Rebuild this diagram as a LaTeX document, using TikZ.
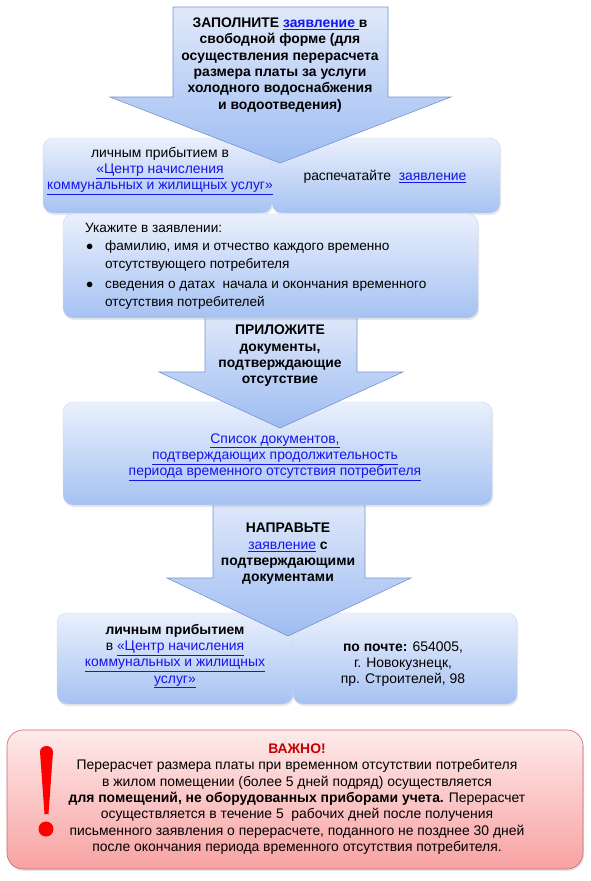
\documentclass[tikz,border=0pt]{standalone}
\usepackage{fontspec}
\setmainfont{Liberation Sans}
\usetikzlibrary{shadows}
\definecolor{linkblue}{RGB}{20,20,235}
\definecolor{boxtop}{RGB}{234,240,252}
\definecolor{boxbot}{RGB}{166,194,242}
\definecolor{arrtop}{RGB}{224,233,250}
\definecolor{arrbot}{RGB}{158,188,242}
\definecolor{arredge}{RGB}{118,148,205}
\definecolor{warntop}{RGB}{254,234,234}
\definecolor{warnbot}{RGB}{248,162,162}
\definecolor{warnedge}{RGB}{200,105,105}
\definecolor{warnred}{RGB}{200,0,0}
\newcommand{\lnk}[1]{\textcolor{linkblue}{\underline{#1}}}
\tikzset{
  panel/.style={rounded corners=10pt, top color=boxtop, bottom color=boxbot,
    draw=boxtop!50!boxbot, line width=0.4pt,
    drop shadow={opacity=0.18, shadow xshift=1pt, shadow yshift=-2pt}},
  bigarrow/.style={top color=arrtop, bottom color=arrbot, draw=arredge, line width=0.6pt},
  warnbox/.style={rounded corners=16pt, top color=warntop, bottom color=warnbot,
    draw=warnedge, line width=0.6pt,
    drop shadow={opacity=0.2, shadow xshift=1pt, shadow yshift=-2pt}},
  txt/.style={align=center, inner sep=0pt, font=\fontsize{13.9}{16.3}\selectfont},
  boldtxt/.style={txt, font=\fontsize{13.9}{16.3}\selectfont\bfseries},
  lefttxt/.style={anchor=base west, inner sep=0pt, font=\fontsize{13.6}{16}\selectfont},
}

\begin{document}
\begin{tikzpicture}[x=1pt, y=-1pt]
  \useasboundingbox (0,0) rectangle (590,881);
  % first step: ways to hand in
  \shade[panel] (43,138) rectangle (272,213);
  \shade[panel] (272,138) rectangle (500,213);
  \shade[bigarrow] (173,7) -- (388,7) -- (388,97) -- (451,97) -- (280,163)
    -- (110,97) -- (173,97) -- cycle;
  % last step: ways to send
  \shade[panel] (57,613) rectangle (293,704);
  \shade[panel] (293,613) rectangle (517,704);
  \shade[bigarrow] (213,500) -- (365,500) -- (365,578) -- (411,578) -- (288,636)
    -- (167,578) -- (213,578) -- cycle;
  % documents
  \shade[panel] (63,402) rectangle (492,505);
  \shade[bigarrow] (205,312) -- (357,312) -- (357,372) -- (403,372) -- (280,428)
    -- (159,372) -- (205,372) -- cycle;
  \shade[panel] (63,214) rectangle (478,318);
  % warning
  \shade[warnbox] (7,730) rectangle (583,869);
  \fill[red] (40,752) .. controls (40,744) and (53,744) .. (53,752)
    -- (48.5,814) -- (44.5,814) -- cycle;
  \fill[red] (46,829) circle (7.5);

  \node[boldtxt] (fill) at (280,65)
    {ЗАПОЛНИТЕ \lnk{заявление }в\\свободной форме (для\\осуществления перерасчета\\
     размера платы за услуги\\холодного водоснабжения\\и водоотведения)};
  \node[txt] (visit) at (160,171)
    {личным прибытием в\\\lnk{«Центр начисления}\\\lnk{коммунальных и жилищных услуг»}};
  \node[txt] (print) at (385,177) {распечатайте\ \ \lnk{заявление}};
  \node[lefttxt] (hint) at (85,232) {Укажите в заявлении:};
  \node[lefttxt] (dot1) at (86,250) {$\bullet$};
  \node[lefttxt] (name) at (105,250) {фамилию, имя и отчество каждого временно};
  \node[lefttxt] (name2) at (105,268) {отсутствующего потребителя};
  \node[lefttxt] (dot2) at (86,288) {$\bullet$};
  \node[lefttxt] (dates) at (105,288) {сведения о датах\ \ начала и окончания временного};
  \node[lefttxt] (dates2) at (105,306) {отсутствия потребителей};
  \node[boldtxt] (attach) at (280,356)
    {ПРИЛОЖИТЕ\\документы,\\подтверждающие\\отсутствие};
  \node[txt] (list) at (275,457)
    {\lnk{Список документов,}\\\lnk{подтверждающих продолжительность}\\
     \lnk{периода временного отсутствия потребителя}};
  \node[boldtxt] (send) at (288,554)
    {НАПРАВЬТЕ\\\lnk{\mdseries заявление} с\\подтверждающими\\документами};
  \node[txt] (inperson) at (175,656)
    {\textbf{личным прибытием}\\в \lnk{«Центр начисления}\\\lnk{коммунальных и жилищных}\\\lnk{услуг»}};
  \node[txt] (post) at (403,664)
    {\textbf{по почте:} 654005,\\г. Новокузнецк,\\пр. Строителей, 98};
  \node[txt] (important) at (297,799)
    {\textcolor{warnred}{\textbf{ВАЖНО!}}\\
     Перерасчет размера платы при временном отсутствии потребителя\\
     в жилом помещении (более 5 дней подряд) осуществляется\\
     \textbf{для помещений, не оборудованных приборами учета.} Перерасчет\\
     осуществляется в течение 5\ \ рабочих дней после получения\\
     письменного заявления о перерасчете, поданного не позднее 30 дней\\
     после окончания периода временного отсутствия потребителя.};
\end{tikzpicture}
\end{document}
